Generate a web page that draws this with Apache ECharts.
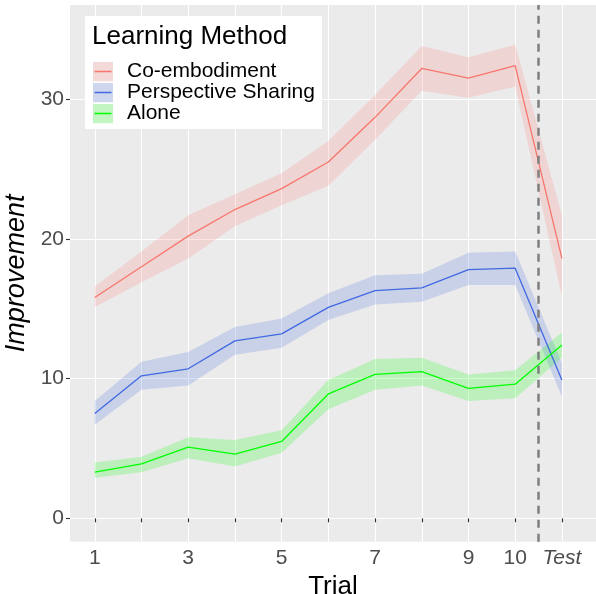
<!DOCTYPE html>
<html>
<head>
<meta charset="utf-8">
<script src="https://cdn.jsdelivr.net/npm/echarts@6.0.0/dist/echarts.min.js"></script>
<style>
html,body{margin:0;padding:0;background:#ffffff;}
#c{width:596px;height:594px;}
</style>
</head>
<body>
<div id="c"></div>
<script>
// ---- data ----
const trials = [1, 2, 3, 4, 5, 6, 7, 8, 9, 10, 11];
const trialLabels = ['1', '2', '3', '4', '5', '6', '7', '8', '9', '10', 'Test'];
const labelledTrials = [1, 3, 5, 7, 9, 10, 11];
const yTicks = [0, 10, 20, 30];
const testDivider = 10.5;
const methods = ['Co-embodiment', 'Perspective Sharing', 'Alone'];

const coMean = [15.8, 18.0, 20.2, 22.1, 23.6, 25.5, 28.7, 32.2, 31.5, 32.4, 18.6];
const coLow  = [15.1, 16.9, 18.6, 20.9, 22.4, 23.8, 27.1, 30.6, 30.1, 30.9, 15.9];
const coHigh = [16.6, 19.1, 21.7, 23.2, 24.7, 27.0, 30.3, 33.8, 33.0, 33.9, 21.7];

const psMean = [7.5, 10.2, 10.7, 12.7, 13.2, 15.1, 16.3, 16.5, 17.8, 17.9, 9.9];
const psLow  = [6.7, 9.2, 9.5, 11.7, 12.2, 14.2, 15.3, 15.5, 16.7, 16.7, 8.7];
const psHigh = [8.4, 11.2, 11.9, 13.7, 14.3, 16.1, 17.4, 17.5, 19.0, 19.1, 11.1];

const alMean = [3.3, 3.9, 5.1, 4.6, 5.5, 8.9, 10.3, 10.5, 9.3, 9.6, 12.4];
const alLow  = [2.9, 3.3, 4.3, 3.7, 4.7, 7.8, 9.2, 9.5, 8.4, 8.6, 11.5];
const alHigh = [4.0, 4.4, 5.8, 5.6, 6.3, 9.9, 11.4, 11.5, 10.3, 10.6, 13.3];

// ---- styling ----
const FONT = "'Liberation Sans', Arial, Helvetica, sans-serif";
const colors = ['#F8766D', '#4169E1', '#00FF00'];
const keyFills = ['#F3D9D7', '#CFD7EF', '#C2F5C2'];

function keyIcon(fill, stroke) {
  const svg = '<svg xmlns="http://www.w3.org/2000/svg" width="29" height="20" viewBox="0 0 29 20">' +
    '<rect x="0" y="0" width="20" height="20" fill="' + fill + '"/>' +
    '<line x1="1.5" y1="10" x2="18.5" y2="10" stroke="' + stroke + '" stroke-width="1.4"/></svg>';
  return 'image://data:image/svg+xml;charset=utf-8,' + encodeURIComponent(svg);
}

function ribbon(name, low, high, color) {
  return {
    type: 'custom',
    name: name + ' band',
    z: 1,
    silent: true,
    data: trials.map((t, i) => [t, low[i], high[i]]),
    encode: { x: 0, y: [1, 2] },
    renderItem: function (params, api) {
      if (params.dataIndex !== 0) return null;
      const top = trials.map((t, i) => api.coord([t, high[i]]));
      const bottom = trials.map((t, i) => api.coord([t, low[i]])).reverse();
      return {
        type: 'polygon',
        shape: { points: top.concat(bottom) },
        style: { fill: color, opacity: 0.2 }
      };
    }
  };
}

function line(name, mean, color) {
  return {
    type: 'line',
    name: name,
    z: 3,
    silent: true,
    showSymbol: false,
    symbol: 'none',
    data: trials.map((t, i) => [t, mean[i]]),
    lineStyle: { color: color, width: 1.3 },
    itemStyle: { color: color }
  };
}

const series = [
  ribbon(methods[0], coLow, coHigh, colors[0]),
  ribbon(methods[1], psLow, psHigh, colors[1]),
  ribbon(methods[2], alLow, alHigh, colors[2]),
  line(methods[0], coMean, colors[0]),
  line(methods[1], psMean, colors[1]),
  line(methods[2], alMean, colors[2])
];
series[5].markLine = {
  silent: true,
  symbol: ['none', 'none'],
  label: { show: false },
  lineStyle: { type: [8, 6], color: '#7F7F7F', width: 2.5 },
  data: [{ xAxis: testDivider }]
};

const option = {
  animation: false,
  backgroundColor: '#ffffff',
  grid: {
    left: 70, top: 5, right: 0, bottom: 52.3,
    outerBoundsMode: 'none',
    containLabel: false,
    show: true, backgroundColor: '#EBEBEB', borderWidth: 0
  },
  xAxis: {
    type: 'value',
    min: 0.47, max: 11.73,
    axisLine: { show: false },
    axisTick: { show: true, length: 4, lineStyle: { color: '#333333', width: 1.1 }, customValues: trials },
    axisLabel: {
      customValues: labelledTrials,
      margin: 6,
      color: '#4D4D4D',
      fontSize: 21,
      fontFamily: FONT,
      formatter: function (v) {
        const lab = trialLabels[trials.indexOf(v)];
        return lab === 'Test' ? '{it|Test}' : lab;
      },
      rich: { it: { fontStyle: 'italic', fontSize: 21, color: '#4D4D4D', fontFamily: FONT } }
    },
    splitLine: { show: true, lineStyle: { color: '#ffffff', width: 1.1 } },
    name: 'Trial',
    nameLocation: 'middle',
    nameGap: 25,
    nameTextStyle: { fontSize: 26, color: '#000000', fontFamily: FONT }
  },
  yAxis: {
    type: 'value',
    min: -1.675, max: 36.74,
    axisLine: { show: false },
    axisTick: { show: true, length: 4, lineStyle: { color: '#333333', width: 1.1 }, customValues: yTicks },
    axisLabel: { customValues: yTicks, margin: 6, color: '#4D4D4D', fontSize: 21, fontFamily: FONT },
    splitLine: { show: true, lineStyle: { color: '#ffffff', width: 1.1 } },
    name: 'Improvement',
    nameLocation: 'middle',
    nameRotate: 90,
    nameGap: 37,
    nameTextStyle: { fontSize: 27, fontStyle: 'italic', color: '#000000', fontFamily: FONT }
  },
  legend: {
    left: 93, top: 61,
    orient: 'vertical',
    padding: 0,
    itemWidth: 29, itemHeight: 20, itemGap: 0,
    selectedMode: false,
    z: 60,
    data: methods.map((m, i) => ({ name: m, icon: keyIcon(keyFills[i], colors[i]) })),
    textStyle: { fontSize: 21, color: '#000000', fontFamily: FONT, lineHeight: 20 }
  },
  graphic: [
    { type: 'rect', z: 50, shape: { x: 85, y: 16, width: 237, height: 113 }, style: { fill: '#ffffff' } },
    { type: 'text', z: 51, x: 92, y: 37,
      style: { text: 'Learning Method', fontSize: 26, fontFamily: FONT, fill: '#000000', verticalAlign: 'middle' } }
  ],
  series: series
};

const chart = echarts.init(document.getElementById('c'));
chart.setOption(option);
</script>
</body>
</html>
